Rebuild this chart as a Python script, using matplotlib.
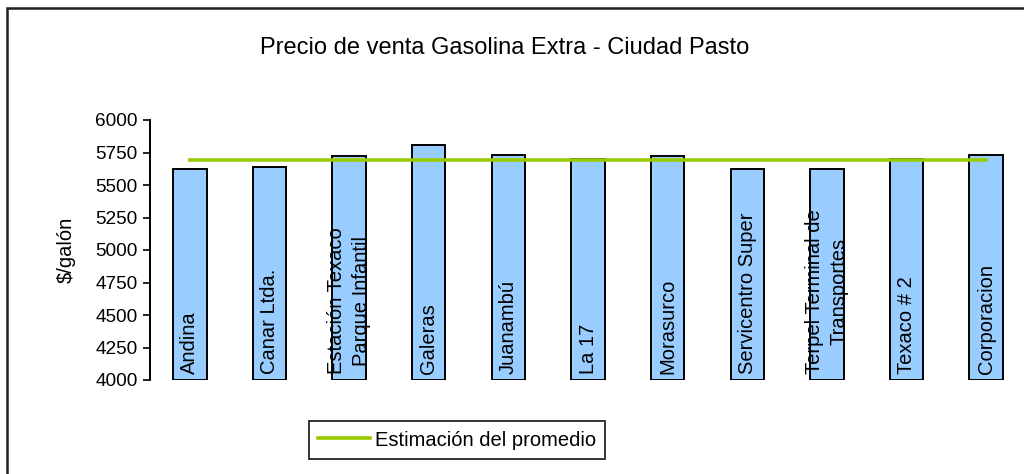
import matplotlib
matplotlib.use("Agg")
import matplotlib.pyplot as plt
from matplotlib.patches import Rectangle

plt.rcParams['font.family'] = ['Liberation Sans', 'DejaVu Sans']

# Data
estaciones = ["Andina", "Canar Ltda.", "Estación Texaco\nParque Infantil", "Galeras",
              "Juanambú", "La 17", "Morasurco", "Servicentro Super",
              "Terpel Terminal de\nTransportes", "Texaco # 2", "Corporacion"]
precios = [5620, 5640, 5720, 5810, 5730, 5700, 5720, 5620, 5620, 5700, 5730]
promedio = [5690] * len(estaciones)
yticks = [4000, 4250, 4500, 4750, 5000, 5250, 5500, 5750, 6000]

W, H = 1024, 474
fig = plt.figure(figsize=(W / 100, H / 100), dpi=100)

# outer frame (only top/left visible in the reference)
fig.patches.append(Rectangle((7 / W, -0.5), 2.0, 1.5 - 8 / H, transform=fig.transFigure,
                             fill=False, edgecolor='#202020', linewidth=1.8))

ax = fig.add_axes([150 / W, 1 - 380 / H, 876 / W, 260 / H])
x = list(range(len(estaciones)))

ax.bar(x, [p - 4000 for p in precios], bottom=4000, width=0.42,
       color='#99CCFF', edgecolor='black', linewidth=1.4, zorder=2)
ax.plot(x, promedio, color='#99CC00', linewidth=2.6, zorder=3,
        label='Estimación del promedio')

for xi, name in zip(x, estaciones):
    ax.text(xi, 4045, name, rotation=90, ha='center', va='bottom',
            multialignment='center', fontsize=14.5, linespacing=1.35, zorder=4)

ax.set_xlim(-0.5, len(estaciones) - 0.5)
ax.set_ylim(4000, 6000)
ax.set_yticks(yticks)
ax.tick_params(axis='y', direction='out', length=5, width=1.2, labelsize=13.7, pad=4)
ax.set_xticks([])
for s in ['top', 'right', 'bottom']:
    ax.spines[s].set_visible(False)
ax.spines['left'].set_linewidth(1.4)
ax.set_ylabel('$/galón', fontsize=14.5, labelpad=14)
ax.patch.set_alpha(0)

fig.text(505 / W, 1 - 48 / H, 'Precio de venta Gasolina Extra - Ciudad Pasto',
         ha='center', va='center', fontsize=17)

leg = fig.legend(loc='center', bbox_to_anchor=(457 / W, 1 - 440 / H), fontsize=14.5,
                 frameon=True, fancybox=False, handlelength=2.6, borderpad=0.45,
                 handletextpad=0.25)
leg.get_frame().set_edgecolor('black')
leg.get_frame().set_linewidth(1.4)

fig.savefig('out.png', dpi=100)
